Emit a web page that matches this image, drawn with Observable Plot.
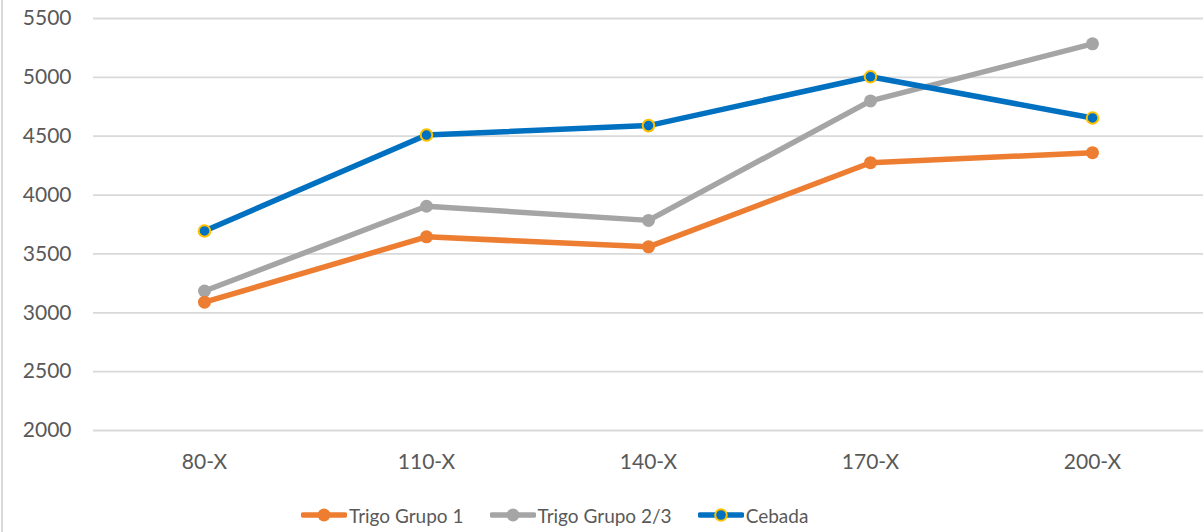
<!DOCTYPE html>
<html>
<head>
<meta charset="utf-8">
<script src="https://cdn.jsdelivr.net/npm/d3@7"></script>
<script src="https://cdn.jsdelivr.net/npm/@observablehq/plot@0.6"></script>
<style>
  html, body { margin: 0; padding: 0; background: #fff; }
  body { width: 1203px; height: 532px; position: relative; overflow: hidden; font-family: Lato, "Noto Sans", sans-serif; }
  #edge { position: absolute; left: 1px; top: 0; width: 2px; height: 532px; background: #d9d9d9; }
  #legend { display: flex; justify-content: flex-start; align-items: center; height: 34px; padding-left: 301px; color: #595959; font-size: 19px; }
  .item { display: flex; align-items: center; margin-right: 26px; }
  .item svg { margin-right: 2px; }
</style>
</head>
<body>
<div id="edge"></div>
<div id="chart"></div>
<div id="legend"></div>
<script>
const categories = ["80-X", "110-X", "140-X", "170-X", "200-X"];
const trigoGrupo1 = [3090, 3645, 3560, 4275, 4360];
const trigoGrupo23 = [3185, 3905, 3785, 4800, 5285];
const cebada = [3695, 4510, 4590, 5005, 4655];
const yTicks = [2000, 2500, 3000, 3500, 4000, 4500, 5000, 5500];
const seriesNames = ["Trigo Grupo 1", "Trigo Grupo 2/3", "Cebada"];
const seriesColors = ["#ED7D31", "#A5A5A5", "#0070C0"];

const toRows = vals => categories.map((c, i) => ({cat: c, v: vals[i]}));
const r1 = toRows(trigoGrupo1), r2 = toRows(trigoGrupo23), r3 = toRows(cebada);

const lineOpts = {x: "cat", y: "v", strokeWidth: 5.5, strokeLinejoin: "round", strokeLinecap: "round"};

const chart = Plot.plot({
  width: 1203,
  height: 498,
  marginLeft: 93,
  marginRight: 0,
  marginTop: 18,
  marginBottom: 68,
  style: {fontFamily: "Lato, 'Noto Sans', sans-serif", fontSize: "21px", color: "#595959", background: "#fff"},
  x: {type: "point", domain: categories, padding: 0.5, align: 0.5, label: null},
  y: {domain: [2000, 5500], label: null},
  marks: [
    Plot.ruleY(yTicks, {stroke: "#d9d9d9", strokeWidth: 1.8}),
    Plot.axisY({ticks: yTicks, tickFormat: d => String(d), tickSize: 0, tickPadding: 22, label: null, fill: "#595959"}),
    Plot.axisX({tickSize: 0, tickPadding: 24, label: null, fill: "#595959"}),
    Plot.line(r2, {...lineOpts, stroke: seriesColors[1]}),
    Plot.line(r1, {...lineOpts, stroke: seriesColors[0]}),
    Plot.line(r3, {...lineOpts, stroke: seriesColors[2]}),
    Plot.dot(r2, {x: "cat", y: "v", r: 6.5, fill: seriesColors[1], stroke: "none"}),
    Plot.dot(r1, {x: "cat", y: "v", r: 6.5, fill: seriesColors[0], stroke: "none"}),
    Plot.dot(r3, {x: "cat", y: "v", r: 5.8, fill: seriesColors[2], stroke: "#FFC000", strokeWidth: 2})
  ]
});
document.getElementById("chart").appendChild(chart);

const legend = document.getElementById("legend");
seriesNames.forEach((name, i) => {
  const item = document.createElement("div");
  item.className = "item";
  const ring = i === 2 ? ' stroke="#FFC000" stroke-width="2"' : '';
  item.innerHTML = `<svg width="46" height="20"><line x1="2" y1="10" x2="44" y2="10" stroke="${seriesColors[i]}" stroke-width="5.5" stroke-linecap="round"/><circle cx="23" cy="10" r="${i === 2 ? 5.8 : 6.5}" fill="${seriesColors[i]}"${ring}/></svg><span>${name}</span>`;
  legend.appendChild(item);
});
</script>
</body>
</html>
